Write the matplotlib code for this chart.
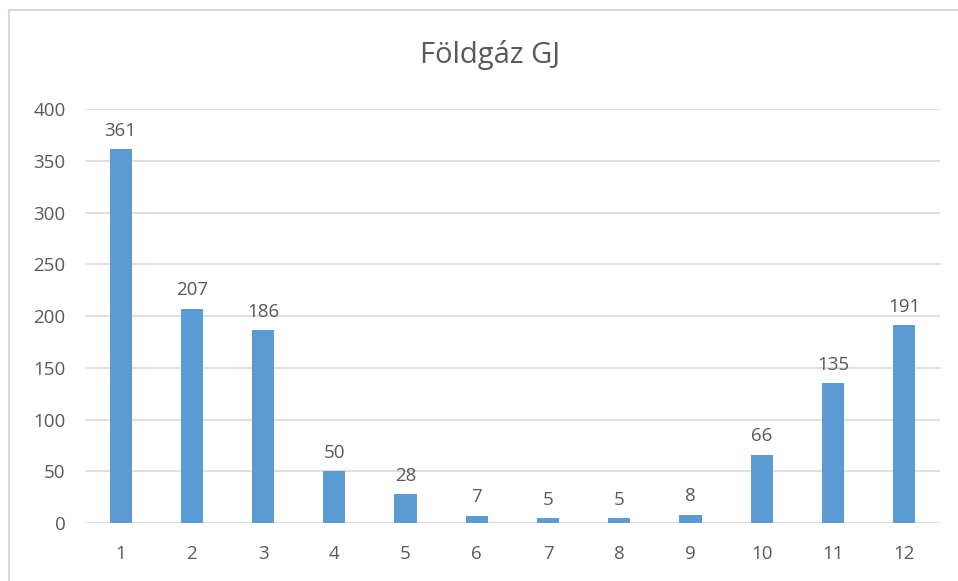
import matplotlib.pyplot as plt
from matplotlib.lines import Line2D

months = [str(i) for i in range(1, 13)]
values = [361, 207, 186, 50, 28, 7, 5, 5, 8, 66, 135, 191]
yticks = [0, 50, 100, 150, 200, 250, 300, 350, 400]

plt.rcParams['font.family'] = ['Open Sans', 'DejaVu Sans']
txt = '#595959'

fig = plt.figure(figsize=(9.58, 5.81), dpi=100)
ax = fig.add_axes([0.0887, 0.0998, 0.8923, 0.7126])

x = list(range(1, 13))
bars = ax.bar(x, values, width=0.31, color='#5B9BD5', zorder=3)
for xi, v in zip(x, values):
    ax.text(xi, v + 9, str(v), ha='center', va='bottom', fontsize=13.5, color=txt)

ax.set_xlim(0.5, 12.5)
ax.set_ylim(0, 400)
ax.set_yticks(yticks)
ax.set_xticks(x)
ax.set_xticklabels(months)
ax.tick_params(axis='both', length=0, labelsize=13.5, labelcolor=txt)
ax.tick_params(axis='x', pad=16)
ax.tick_params(axis='y', pad=14)
ax.grid(axis='y', color='#D9D9D9', linewidth=1.2, zorder=0)
for s in ax.spines.values():
    s.set_visible(False)

fig.text(0.512, 0.905, 'Földgáz GJ', ha='center', va='center', fontsize=21, color=txt)

# chart border (left and top only visible)
fig.add_artist(Line2D([0.0094, 0.0094], [0, 0.983], color='#D9D9D9', lw=1.5))
fig.add_artist(Line2D([0.0094, 1], [0.983, 0.983], color='#D9D9D9', lw=1.5))

fig.savefig('out.png', dpi=100)
